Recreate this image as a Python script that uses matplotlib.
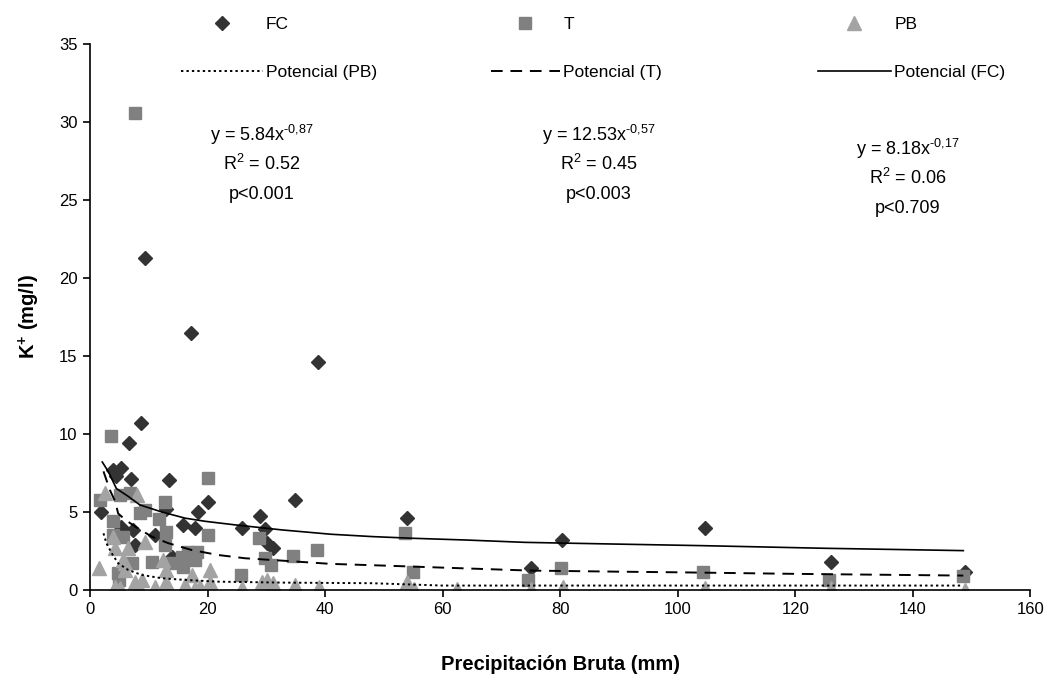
import matplotlib
matplotlib.use("Agg")
import matplotlib.pyplot as plt

plt.rcParams["font.family"] = ["Liberation Sans", "DejaVu Sans"]
plt.rcParams["mathtext.fontset"] = "custom"
plt.rcParams["mathtext.rm"] = "Liberation Sans"
plt.rcParams["mathtext.bf"] = "Liberation Sans:bold"

# --- scatter data ---
fc_x = [1.9, 3.9, 4.5, 5.3, 6.6, 6.9, 8.7, 9.4, 17.2, 38.8, 13.5, 20.1, 18.4, 13.0,
        15.9, 17.9, 11.1, 13.9, 5.3, 7.4, 7.6, 25.9, 29.0, 29.8, 30.2, 31.2, 34.9,
        53.9, 75.0, 80.4, 104.7, 126.1, 148.9]
fc_y = [5.0, 7.7, 7.3, 7.8, 9.4, 7.1, 10.7, 21.3, 16.5, 14.6, 7.05, 5.66, 5.0, 5.2,
        4.17, 3.95, 3.5, 2.1, 4.06, 3.85, 2.9, 4.0, 4.74, 3.9, 3.0, 2.67, 5.77,
        4.6, 1.39, 3.2, 3.95, 1.78, 1.17]

t_x = [7.7, 3.6, 20.1, 12.8, 1.7, 5.1, 6.8, 8.5, 9.4, 3.9, 5.6, 11.7, 13.0, 12.8,
       20.0, 28.7, 16.7, 15.6, 17.9, 10.5, 7.1, 13.9, 29.7, 30.8, 15.9, 25.7, 4.8,
       38.6, 34.5, 53.6, 54.9, 74.6, 80.1, 104.3, 125.8, 148.6, 3.9, 5.0, 18.2]
t_y = [30.6, 9.87, 7.16, 5.66, 5.77, 6.1, 6.2, 4.9, 5.1, 4.4, 3.4, 4.55, 3.74, 2.9,
       3.5, 3.35, 2.46, 2.1, 1.9, 1.8, 1.7, 1.7, 2.07, 1.6, 1.5, 0.96, 1.07,
       2.56, 2.2, 3.63, 1.13, 0.64, 1.43, 1.13, 0.64, 0.9, 3.5, 0.64, 2.46]

pb_x = [1.5, 2.6, 8.0, 4.0, 4.3, 6.5, 9.4, 5.7, 6.0, 12.5, 13.0, 17.3, 20.4, 4.3,
        5.1, 7.7, 8.8, 8.4, 11.1, 13.0, 16.2, 17.9, 18.7, 20.4, 25.8, 29.2, 30.1,
        31.2, 34.9, 39.0, 53.9, 55.1, 62.4, 75.0, 80.5, 104.7, 126.1, 148.9, 5.9]
pb_y = [1.39, 6.2, 6.1, 3.4, 2.67, 2.67, 3.1, 1.9, 1.28, 1.9, 1.28, 0.96, 1.28, 0.2,
        0.13, 0.53, 0.64, 0.2, 0.2, 0.53, 0.32, 0.1, 0.2, 0.53, 0.1, 0.53, 0.64,
        0.43, 0.32, 0.2, 0.53, 0.05, 0.05, 0.05, 0.2, 0.1, 0.1, 0.0, 1.7]

# --- power trend lines ---
fc_fit_x = [2.1, 3.1, 4.5, 6.5, 8.5, 12.2, 16.2, 19.6, 24.7, 32.6, 41, 48, 55, 64,
            74, 88, 104, 125, 148.6]
fc_fit_y = [8.2, 7.6, 6.5, 6.0, 5.45, 5.0, 4.6, 4.4, 4.17, 3.85, 3.57, 3.42, 3.31,
            3.2, 3.05, 2.95, 2.84, 2.67, 2.52]
t_fit_x = [2.3, 3.4, 4.3, 4.8, 6.0, 7.7, 10.5, 13.3, 17.3, 21.8, 26.4, 32.6, 41, 50,
           60, 75, 90, 100, 120, 148.6]
t_fit_y = [7.6, 6.4, 5.66, 4.9, 4.5, 4.06, 3.42, 3.0, 2.56, 2.24, 2.03, 1.88, 1.67,
           1.56, 1.43, 1.24, 1.17, 1.13, 1.03, 0.92]
pb_fit_x = [2.3, 2.8, 3.7, 4.8, 6.5, 8.8, 12.2, 16.2, 21.8, 32.6, 48, 60, 100, 148.6]
pb_fit_y = [3.63, 3.0, 2.35, 1.71, 1.28, 0.96, 0.75, 0.64, 0.53, 0.47, 0.43, 0.28,
            0.28, 0.28]

x_ticks = [0, 20, 40, 60, 80, 100, 120, 140, 160]
y_ticks = [0, 5, 10, 15, 20, 25, 30, 35]

fig = plt.figure(figsize=(10.46, 6.82), dpi=100)
ax = fig.add_axes([0.086, 0.135, 0.899, 0.8005])

h_fc, = ax.plot(fc_x, fc_y, "D", color="#333333", ms=6.8, mec="#333333", ls="none")
h_t, = ax.plot(t_x, t_y, "s", color="#808080", ms=8.4, mec="#808080", ls="none")
h_pb, = ax.plot(pb_x, pb_y, "^", color="#a3a3a3", ms=10, mec="#a3a3a3", ls="none")

l_pb, = ax.plot(pb_fit_x, pb_fit_y, color="black", lw=1.4, ls=(0, (1.2, 1.6)))
l_t, = ax.plot(t_fit_x, t_fit_y, color="black", lw=1.4, ls=(0, (6, 4)))
l_fc, = ax.plot(fc_fit_x, fc_fit_y, color="black", lw=1.2, ls="-")

ax.set_xlim(0, 160)
ax.set_ylim(0, 35)
ax.set_xticks(x_ticks)
ax.set_yticks(y_ticks)
ax.tick_params(direction="out", length=5, width=1.2, labelsize=12, pad=4)
for s in ("top", "right"):
    ax.spines[s].set_visible(False)
for s in ("left", "bottom"):
    ax.spines[s].set_linewidth(1.2)

ax.set_xlabel("Precipitación Bruta (mm)", fontsize=14.5, fontweight="bold", labelpad=27)
ax.set_ylabel("K$^{\\mathbf{+}}$ (mg/l)", fontsize=14.5, fontweight="bold", labelpad=12)

# fit equations
notes = [
    (29.3, 29.2, "y = 5.84x$\\mathregular{^{\\text{-0,87}}}$", "R$\\mathregular{^2}$ = 0.52", "p<0.001"),
    (86.5, 29.2, "y = 12.53x$\\mathregular{^{\\text{-0,57}}}$", "R$\\mathregular{^2}$ = 0.45", "p<0.003"),
    (139.2, 28.3, "y = 8.18x$\\mathregular{^{\\text{-0,17}}}$", "R$\\mathregular{^2}$ = 0.06", "p<0.709"),
]
for x, y, eq, r2, p in notes:
    ax.text(x, y, eq, ha="center", va="center", fontsize=13)
    ax.text(x, y - 1.92, r2, ha="center", va="center", fontsize=13)
    ax.text(x, y - 3.85, p, ha="center", va="center", fontsize=13)

# legend: three columns, each its own legend
cols = [
    (0.173, 4.7, [h_fc, l_pb], ["FC", "Potencial (PB)"]),
    (0.469, 4.0, [h_t, l_t], ["T", "Potencial (T)"]),
    (0.782, 4.2, [h_pb, l_fc], ["PB", "Potencial (FC)"]),
]
for xpos, hl, hs, labs in cols:
    fig.legend(hs, labs, loc="upper left", bbox_to_anchor=(xpos, 0.975),
               frameon=False, fontsize=12.5, handlelength=hl,
               handletextpad=0.2, labelspacing=1.9, borderpad=0,
               borderaxespad=0)

fig.savefig("out.png", dpi=100)
